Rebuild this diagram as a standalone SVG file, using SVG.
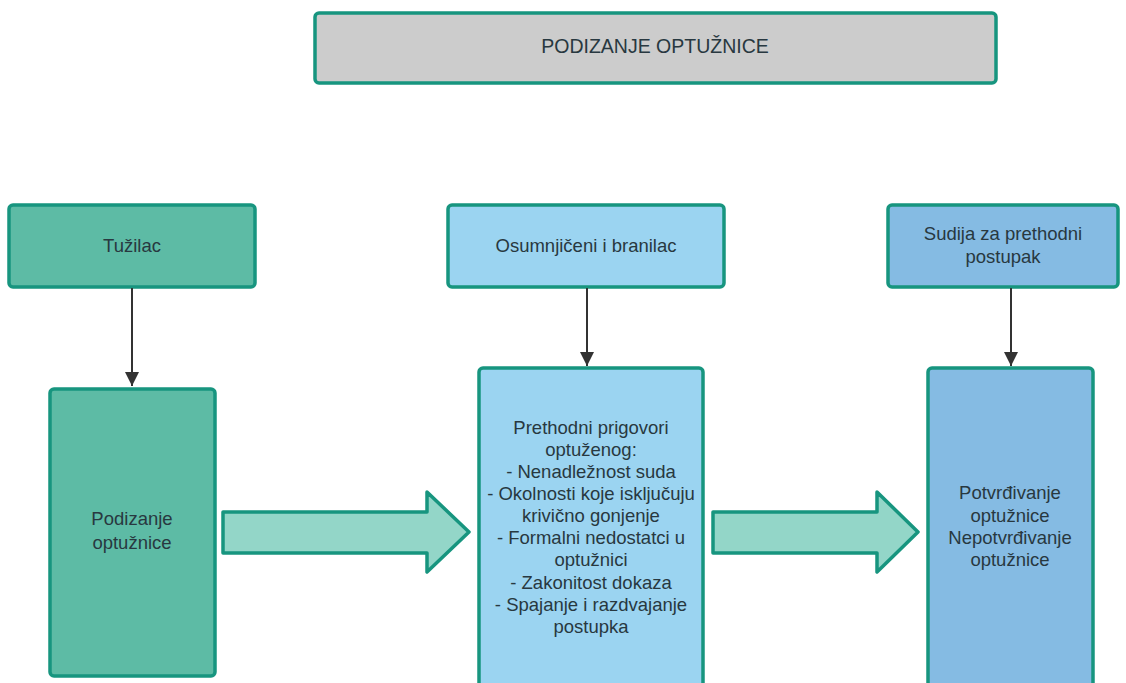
<svg xmlns="http://www.w3.org/2000/svg" width="1126" height="683" viewBox="0 0 1126 683">
<style>
.box{stroke:#17957f;stroke-width:3.5}
.t{font-family:"Liberation Sans",Arial,sans-serif;font-size:18.5px;fill:#283840;text-anchor:middle}
.conn{stroke:#333;stroke-width:2;fill:none}
.big{fill:#93d6c8;stroke:#17957f;stroke-width:3.5;stroke-linejoin:round}
</style>
<defs>
<marker id="ah" markerWidth="14" markerHeight="16" refX="14" refY="7" orient="auto" markerUnits="userSpaceOnUse">
<path d="M0,0 L14,7 L0,14 Z" fill="#333"/>
</marker>
</defs>
<rect width="1126" height="683" fill="#fff"/>
<g id="title">
<rect class="box" x="315" y="13" width="681" height="70" rx="4" fill="#cccccc"/>
<text class="t" x="655" y="53" style="font-size:19.5px">PODIZANJE OPTUŽNICE</text>
</g>
<g id="tuzilac">
<rect class="box" x="9" y="205" width="246" height="82" rx="4" fill="#5dbba5"/>
<text class="t" x="132" y="252">Tužilac</text>
</g>
<g id="osumnjiceni">
<rect class="box" x="448" y="205" width="276" height="82" rx="4" fill="#9bd4f1"/>
<text class="t" x="586" y="252">Osumnjičeni i branilac</text>
</g>
<g id="sudija">
<rect class="box" x="888" y="205" width="230" height="82" rx="4" fill="#85bbe3"/>
<text class="t" x="1003" y="240">Sudija za prethodni</text>
<text class="t" x="1003" y="263">postupak</text>
</g>
<g id="podizanje">
<rect class="box" x="50" y="389" width="165" height="287" rx="4" fill="#5dbba5"/>
<text class="t" x="132" y="525">Podizanje</text>
<text class="t" x="132" y="549">optužnice</text>
</g>
<g id="prigovori">
<rect class="box" x="479" y="368" width="224" height="330" rx="4" fill="#9bd4f1"/>
<text class="t" x="591" y="434">Prethodni prigovori</text>
<text class="t" x="591" y="456">optuženog:</text>
<text class="t" x="591" y="478">- Nenadležnost suda</text>
<text class="t" x="591" y="500">- Okolnosti koje isključuju</text>
<text class="t" x="591" y="522">krivično gonjenje</text>
<text class="t" x="591" y="544">- Formalni nedostatci u</text>
<text class="t" x="591" y="566">optužnici</text>
<text class="t" x="591" y="589">- Zakonitost dokaza</text>
<text class="t" x="591" y="611">- Spajanje i razdvajanje</text>
<text class="t" x="591" y="633">postupka</text>
</g>
<g id="potvrdivanje">
<rect class="box" x="928" y="368" width="165" height="330" rx="4" fill="#85bbe3"/>
<text class="t" x="1010" y="499">Potvrđivanje</text>
<text class="t" x="1010" y="522">optužnice</text>
<text class="t" x="1010" y="544">Nepotvrđivanje</text>
<text class="t" x="1010" y="566">optužnice</text>
</g>
<g id="connectors">
<line class="conn" x1="132" y1="288" x2="132" y2="386" marker-end="url(#ah)"/>
<line class="conn" x1="587" y1="288" x2="587" y2="366" marker-end="url(#ah)"/>
<line class="conn" x1="1011" y1="288" x2="1011" y2="366" marker-end="url(#ah)"/>
<path class="big" d="M223,512 H427 V492 L469,532 L427,572 V553 H223 Z"/>
<path class="big" d="M713,512 H877 V492 L918,532 L877,572 V553 H713 Z"/>
</g>
</svg>
